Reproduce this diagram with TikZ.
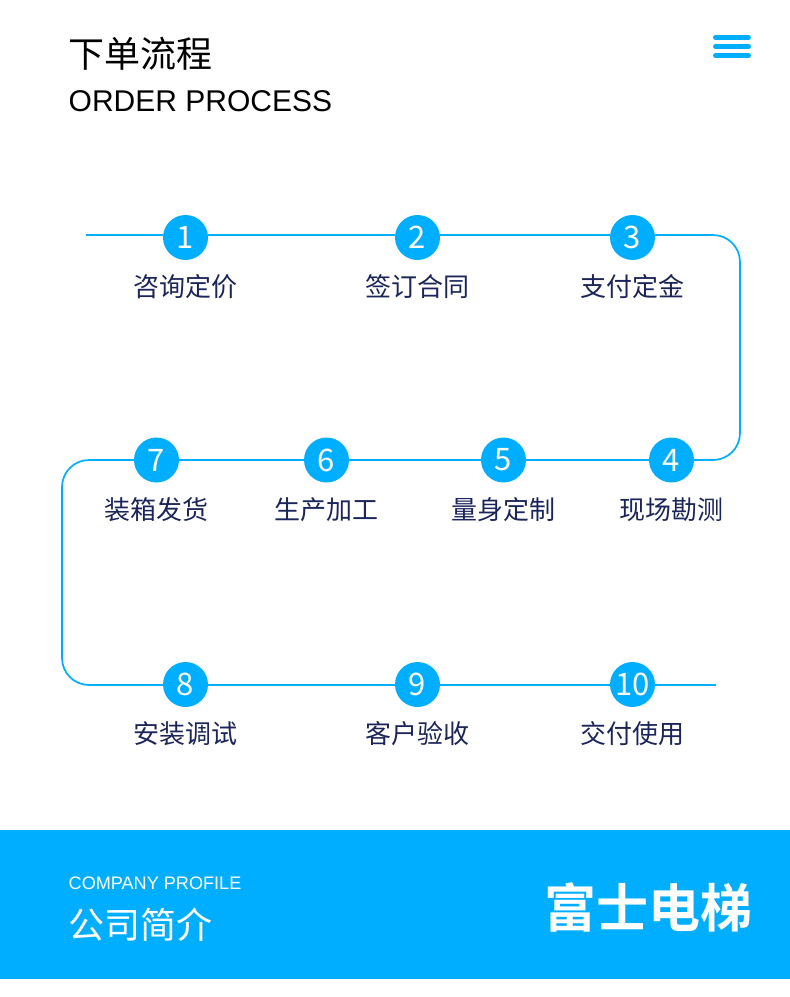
\documentclass[tikz,border=0pt]{standalone}
\usepackage{fontspec}
\setmainfont{Liberation Sans}
\newfontfamily\cjk[BoldFont={Noto Sans CJK SC Bold}]{Noto Sans CJK SC}
\definecolor{skyblue}{HTML}{00AEFF}
\definecolor{navytext}{HTML}{1B2559}
\tikzset{
    stepdot/.style={circle, fill=skyblue, text=white, minimum size=45pt, inner sep=0pt,
        font=\cjk\fontsize{31}{31}\selectfont},
    steptext/.style={text=navytext, inner sep=0pt, font=\cjk\fontsize{26}{26}\selectfont},
    flowline/.style={skyblue, line width=1.7pt, rounded corners=27pt},
    menubar/.style={skyblue, line width=5pt, line cap=round}
}
\begin{document}
\begin{tikzpicture}[x=1pt, y=-1pt]
    \useasboundingbox (0,0) rectangle (790,997);
    % Tiêu đề
    \node[anchor=west, inner sep=0pt, font=\cjk\fontsize{36}{36}\selectfont] (title) at (68,54) {下单流程};
    \node[anchor=west, inner sep=0pt, font=\fontsize{30}{32}\selectfont] (subtitle) at (68.5,101) {ORDER PROCESS};

    % Biểu tượng menu
    \coordinate (m1a) at (715.5,37.5);
    \coordinate (m1b) at (748.5,37.5);
    \coordinate (m2a) at (715.5,46.5);
    \coordinate (m2b) at (748.5,46.5);
    \coordinate (m3a) at (715.5,55.5);
    \coordinate (m3b) at (748.5,55.5);
    \draw[menubar] (m1a) -- (m1b);
    \draw[menubar] (m2a) -- (m2b);
    \draw[menubar] (m3a) -- (m3b);

    % Các bước
    \node[stepdot] (n1) at (185.5,237.5) {1};
    \node[stepdot] (n2) at (417.5,237.5) {2};
    \node[stepdot] (n3) at (632.5,237.5) {3};
    \node[stepdot] (n4) at (671.5,460) {4};
    \node[stepdot] (n5) at (503.5,460) {5};
    \node[stepdot] (n6) at (326.5,460) {6};
    \node[stepdot] (n7) at (156.5,460) {7};
    \node[stepdot] (n8) at (185.5,684.5) {8};
    \node[stepdot] (n9) at (417.5,684.5) {9};
    \node[stepdot] (n10) at (632.5,684.5) {10};
    \node[steptext] (t1) at (185.5,287) {咨询定价};
    \node[steptext] (t2) at (417.5,287) {签订合同};
    \node[steptext] (t3) at (632.5,287) {支付定金};
    \node[steptext] (t4) at (671.5,510) {现场勘测};
    \node[steptext] (t5) at (503.5,510) {量身定制};
    \node[steptext] (t6) at (326.5,510) {生产加工};
    \node[steptext] (t7) at (156.5,510) {装箱发货};
    \node[steptext] (t8) at (185.5,734) {安装调试};
    \node[steptext] (t9) at (417.5,734) {客户验收};
    \node[steptext] (t10) at (632.5,734) {交付使用};

    % Đường nối
    \coordinate (start) at (86,235);
    \coordinate (end) at (716,685);
    \coordinate (c1) at (740,235);
    \coordinate (c2) at (740,460);
    \coordinate (c3) at (62,460);
    \coordinate (c4) at (62,685);
    \draw[flowline] (start) -- (n1.west |- start);
    \draw[flowline] (n1.east |- start) -- (n2.west |- start);
    \draw[flowline] (n2.east |- start) -- (n3.west |- start);
    \draw[flowline] (n3.east |- start) -- (c1) -- (c2) -- (n4);
    \draw[flowline] (n4) -- (n5);
    \draw[flowline] (n5) -- (n6);
    \draw[flowline] (n6) -- (n7);
    \draw[flowline] (n7) -- (c3) -- (c4) -- (n8.west |- c4);
    \draw[flowline] (n8.east |- c4) -- (n9.west |- c4);
    \draw[flowline] (n9.east |- c4) -- (n10.west |- c4);
    \draw[flowline] (n10.east |- c4) -- (end);

    % Chân trang
    \fill[skyblue] (0,830) rectangle (790,979);
    \node[anchor=west, inner sep=0pt, text=white, font=\fontsize{18.1}{19}\selectfont] (profile) at (68.5,883) {COMPANY PROFILE};
    \node[anchor=west, inner sep=0pt, text=white, font=\cjk\fontsize{36}{36}\selectfont] (intro) at (68,925) {公司简介};
    \node[anchor=east, inner sep=0pt, text=white, font=\cjk\bfseries\fontsize{52}{52}\selectfont] (brand) at (753,907) {富士电梯};
\end{tikzpicture}
\end{document}
